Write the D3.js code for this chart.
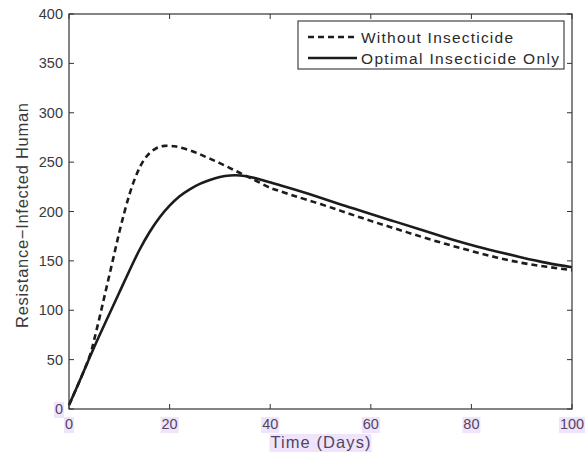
<!DOCTYPE html>
<html>
<head>
<meta charset="utf-8">
<script src="https://cdn.jsdelivr.net/npm/d3@7"></script>
<style>
  html, body { margin: 0; padding: 0; background: #fff; }
  svg { display: block; }
  text { font-family: "Liberation Sans", Arial, Helvetica, sans-serif; }
</style>
</head>
<body>
<svg id="chart" width="586" height="455"></svg>
<script>
// ---- data ----
const timeWithout = [0, 2, 4, 5, 6, 7, 8, 9, 10, 11, 12, 13, 14, 15, 16, 17, 18, 19, 20, 21, 22, 24, 26, 28, 30, 32, 34, 36, 38, 40, 42, 45, 50, 55, 60, 65, 70, 75, 80, 85, 90, 95, 100];
const withoutInsecticide = [4, 27, 52, 70, 91, 113, 135, 157, 179, 199, 217, 232, 244, 253, 259, 263, 265.5, 266.5, 266.5, 266, 265, 262, 258, 253.5, 249, 244, 239, 234, 229, 224, 220.5, 215.5, 207.5, 199, 190.5, 182.5, 174.5, 167, 160, 153.5, 148, 144, 140.5];
const timeOptimal = [0, 2, 4, 6, 8, 10, 12, 14, 16, 18, 20, 22, 24, 26, 28, 30, 32, 34, 36, 38, 40, 42, 45, 50, 55, 60, 65, 70, 75, 80, 85, 90, 95, 100];
const optimalInsecticide = [4, 27, 51, 74, 96, 118, 140, 161, 179, 194, 206, 215.5, 222.5, 228, 232, 235, 236.5, 236.5, 235, 232.5, 229.5, 226.5, 222, 214, 205.5, 197.5, 189.5, 181.5, 173.5, 166, 159.5, 153.5, 148, 143.5];
const xTicks = [0, 20, 40, 60, 80, 100];
const yTicks = [0, 50, 100, 150, 200, 250, 300, 350, 400];
const seriesNames = ["Without Insecticide", "Optimal Insecticide Only"];
const xLabel = "Time (Days)";
const yLabel = "Resistance\u2212Infected Human";

// ---- layout ----
const svg = d3.select("#chart");
const L = 69, R = 572, T = 14, B = 409;
const x = d3.scaleLinear().domain([0, 100]).range([L, R]);
const y = d3.scaleLinear().domain([0, 400]).range([B, T]);
const axisColor = "#333";
const lineColor = "#1c1c1c";
const hiFill = "#efe4fc";
const hiText = "#52465e";

// curves
const lineGen = d3.line().curve(d3.curveNatural);
const ptsW = timeWithout.map((t, i) => [x(t), y(withoutInsecticide[i])]);
const ptsO = timeOptimal.map((t, i) => [x(t), y(optimalInsecticide[i])]);

svg.append("path").attr("d", lineGen(ptsW))
  .attr("fill", "none").attr("stroke", lineColor).attr("stroke-width", 2.6)
  .attr("stroke-dasharray", "6,4");
svg.append("path").attr("d", lineGen(ptsO))
  .attr("fill", "none").attr("stroke", lineColor).attr("stroke-width", 2.6);

// axes box
svg.append("rect").attr("x", L).attr("y", T).attr("width", R - L).attr("height", B - T)
  .attr("fill", "none").attr("stroke", axisColor).attr("stroke-width", 1.2);

// ticks (inward on all sides)
const tl = 5;
xTicks.forEach(v => {
  const px = x(v);
  svg.append("line").attr("x1", px).attr("x2", px).attr("y1", B).attr("y2", B - tl).attr("stroke", axisColor);
  svg.append("line").attr("x1", px).attr("x2", px).attr("y1", T).attr("y2", T + tl).attr("stroke", axisColor);
});
yTicks.forEach(v => {
  const py = y(v);
  svg.append("line").attr("x1", L).attr("x2", L + tl).attr("y1", py).attr("y2", py).attr("stroke", axisColor);
  svg.append("line").attr("x1", R).attr("x2", R - tl).attr("y1", py).attr("y2", py).attr("stroke", axisColor);
});

// highlighted label helper
function hiLabel(txt, cx, cy, size, anchor, len) {
  const g = svg.append("g");
  const t = g.append("text").attr("x", cx).attr("y", cy).attr("font-size", size)
    .attr("text-anchor", anchor).attr("dominant-baseline", "central").attr("fill", hiText).text(txt);
  if (len) t.attr("textLength", len).attr("lengthAdjust", "spacing");
  const bb = t.node().getBBox();
  g.insert("rect", "text").attr("x", bb.x - 1).attr("y", bb.y + 1).attr("width", bb.width + 2).attr("height", bb.height)
    .attr("fill", hiFill);
  return t;
}

// x tick labels
xTicks.forEach(v => hiLabel(String(v), x(v), 424, 14.5, "middle"));
// y tick labels
yTicks.forEach(v => {
  if (v === 0) {
    hiLabel("0", L - 6, y(v), 14.5, "end");
  } else {
    svg.append("text").attr("x", L - 6).attr("y", y(v)).attr("font-size", 14.5)
      .attr("text-anchor", "end").attr("dominant-baseline", "central").attr("fill", "#3a3a3a").text(v);
  }
});

// axis titles
hiLabel(xLabel, (L + R) / 2, 442, 16.5, "middle", 100);
svg.append("text").attr("transform", `translate(22,${(T + B) / 2 + 4}) rotate(-90)`)
  .attr("font-size", 16.5).attr("text-anchor", "middle").attr("dominant-baseline", "central")
  .attr("fill", "#3a3a3a").attr("textLength", 225).attr("lengthAdjust", "spacing").text(yLabel);

// legend
const lg = svg.append("g");
lg.append("rect").attr("x", 298).attr("y", 21).attr("width", 266).attr("height", 48)
  .attr("fill", "#fff").attr("stroke", axisColor).attr("stroke-width", 1.1);
const rows = [37, 58];
const legendLens = [152, 198];
seriesNames.forEach((name, i) => {
  lg.append("line").attr("x1", 308).attr("x2", 357).attr("y1", rows[i]).attr("y2", rows[i])
    .attr("stroke", lineColor).attr("stroke-width", 2.6)
    .attr("stroke-dasharray", i === 0 ? "6,4" : null);
  lg.append("text").attr("x", 361).attr("y", rows[i]).attr("font-size", 15.5)
    .attr("dominant-baseline", "central").attr("fill", "#2a2a2a")
    .attr("textLength", legendLens[i]).attr("lengthAdjust", "spacing").text(name);
});
</script>
</body>
</html>
